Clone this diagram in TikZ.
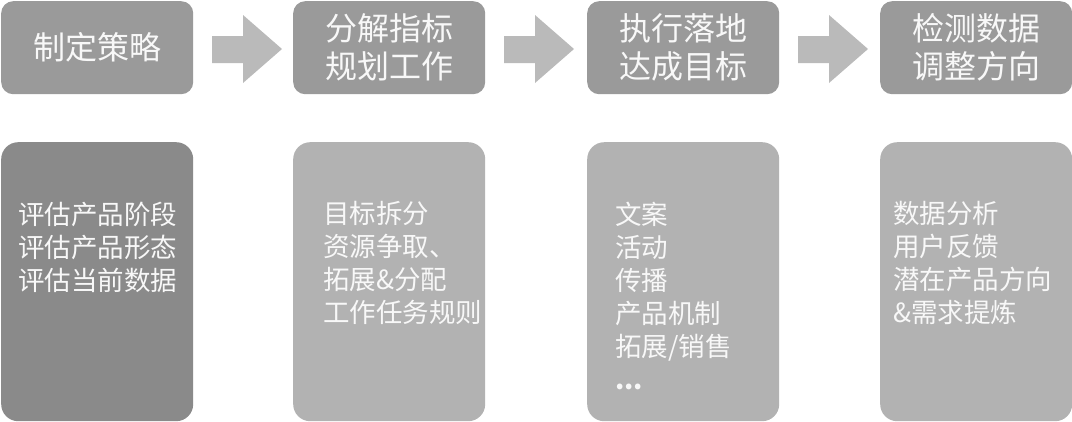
\documentclass[tikz,border=0pt]{standalone}
\usepackage{fontspec}
\setmainfont{Noto Sans CJK SC}
\definecolor{topfill}{HTML}{9A9A9A}
\definecolor{firstfill}{HTML}{8A8A8A}
\definecolor{botfill}{HTML}{B2B2B2}
\definecolor{arrfill}{HTML}{BABABA}
\definecolor{txt}{HTML}{F8F8F8}
\begin{document}
\begin{tikzpicture}[x=1pt,y=1pt,
  topbox/.style={fill=topfill, rounded corners=12pt, minimum width=192pt, minimum height=93pt, inner sep=0pt, anchor=north west, text=txt, align=center, font=\fontsize{32}{38}\selectfont},
  botbox/.style={rounded corners=17pt, minimum width=192pt, minimum height=279pt, inner sep=0pt, anchor=north west},
  bodytext/.style={anchor=north west, inner sep=0pt, text=txt, align=left, font=\fontsize{26.5}{33}\selectfont},
  arrowshape/.style={fill=arrfill}]
\useasboundingbox (0,0) rectangle (1072,-421);
% top boxes
\node[topbox] (t1) at (1,-1) {制定策略};
\node[topbox] (t2) at (293,-1) {分解指标\\规划工作};
\node[topbox] (t3) at (587,-1) {执行落地\\达成目标};
\node[topbox] (t4) at (880,-1) {检测数据\\调整方向};
% arrows
\foreach \s in {0,292,586}{
  \fill[arrowshape, xshift=\s pt] (212,-36) -- (243,-36) -- (243,-15) -- (282,-49) -- (243,-83) -- (243,-63) -- (212,-63) -- cycle;
}
% bottom boxes
\node[botbox, fill=firstfill] (b1) at (1,-142) {};
\node[botbox, fill=botfill] (b2) at (293,-142) {};
\node[botbox, fill=botfill] (b3) at (587,-142) {};
\node[botbox, fill=botfill] (b4) at (880,-142) {};
% bottom texts
\node[bodytext] (x1) at (18,-202) {评估产品阶段\\评估产品形态\\评估当前数据};
\node[bodytext] (x2) at (323,-201) {目标拆分\\资源争取、\\拓展\&分配\\工作任务规则};
\node[bodytext] (x3) at (615,-202) {文案\\活动\\传播\\产品机制\\拓展/销售\\{\bfseries ...}};
\node[bodytext] (x4) at (893,-201) {数据分析\\用户反馈\\潜在产品方向\\\&需求提炼};
\end{tikzpicture}
\end{document}
